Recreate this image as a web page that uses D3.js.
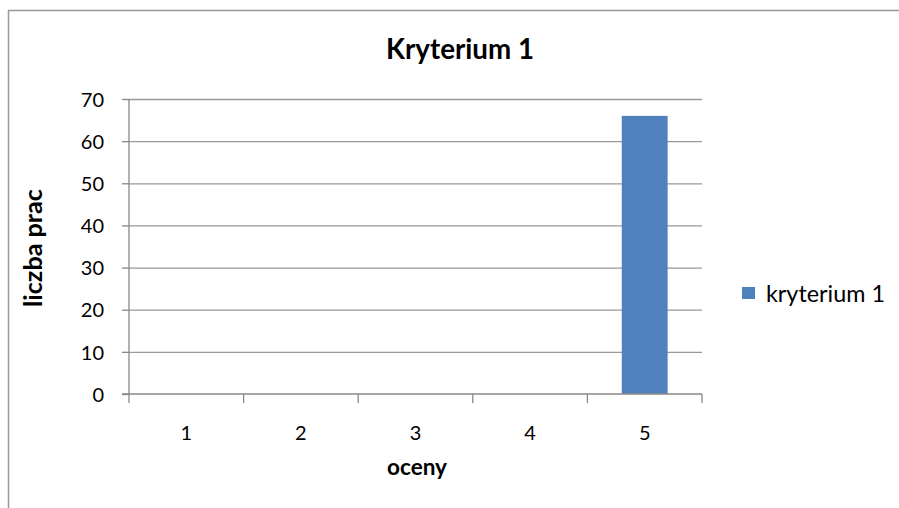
<!DOCTYPE html>
<html><head><meta charset="utf-8">
<script src="https://cdn.jsdelivr.net/npm/d3@7"></script>
<style>body{margin:0;background:#fff}svg{display:block}text{font-family:Lato,"Open Sans",sans-serif;fill:#000}</style>
</head><body>
<script>
const categories = ["1","2","3","4","5"];
const values = [0,0,0,0,66];
const yTicks = [0,10,20,30,40,50,60,70];
const seriesName = "kryterium 1";
const title = "Kryterium 1";
const xTitle = "oceny";
const yTitle = "liczba prac";

const W=899,H=508;
const svg=d3.select("body").append("svg").attr("width",W).attr("height",H);
svg.append("rect").attr("x",8.5).attr("y",10.5).attr("width",W).attr("height",H).attr("fill","none").attr("stroke","#999").attr("stroke-width",1.5);

function fit(sel,target){
  const n=sel.node(); const fs=+sel.attr("font-size");
  const w=n.getComputedTextLength(); if(w>0) sel.attr("font-size",fs*target/w);
  return sel;
}

const m={l:129,r:702,t:99,b:394};
const xb=d3.scaleBand().domain(categories).range([m.l,m.r]);
const y=d3.scaleLinear().domain([0,70]).range([m.b,m.t]);

// gridlines
svg.append("g").selectAll("line").data(yTicks.filter(d=>d>0)).join("line")
 .attr("x1",m.l).attr("x2",m.r).attr("y1",d=>y(d)+0.5).attr("y2",d=>y(d)+0.5)
 .attr("stroke","#999").attr("stroke-width",1.3);

// bars
svg.append("g").selectAll("rect").data(values).join("rect")
 .attr("x",(d,i)=>xb(categories[i])+xb.bandwidth()*0.3)
 .attr("width",xb.bandwidth()*0.4)
 .attr("y",d=>y(d)).attr("height",d=>y(0)-y(d))
 .attr("fill","#4f81bd");

// y axis
const ya=svg.append("g").attr("transform",`translate(${m.l},0)`)
 .call(d3.axisLeft(y).tickValues(yTicks).tickSize(7).tickPadding(18));
ya.selectAll("path,line").attr("stroke","#888").attr("stroke-width",1.3);
ya.select(".domain").attr("d",`M0,${m.t}V${m.b}`);
ya.selectAll("text").attr("font-size",20).attr("font-family","Lato,sans-serif").attr("fill","#000").attr("dy","0.36em");

// x axis
const xa=svg.append("g").attr("transform",`translate(0,${m.b})`);
xa.append("line").attr("x1",m.l-7).attr("x2",m.r).attr("y1",0).attr("y2",0).attr("stroke","#888").attr("stroke-width",1.3);
const edges=categories.map(c=>xb(c)).concat([m.r]);
xa.selectAll("line.t").data(edges).join("line").attr("class","t")
 .attr("x1",d=>d).attr("x2",d=>d).attr("y1",0).attr("y2",9).attr("stroke","#888").attr("stroke-width",1.3);
xa.selectAll("text").data(categories).join("text")
 .attr("x",d=>xb(d)+xb.bandwidth()/2).attr("y",46).attr("text-anchor","middle").attr("font-size",20).text(d=>d);

// titles
fit(svg.append("text").attr("x",460).attr("y",59).attr("text-anchor","middle").attr("font-size",24).attr("font-weight","bold").text(title),148);
fit(svg.append("text").attr("x",417).attr("y",475).attr("text-anchor","middle").attr("font-size",20).attr("font-weight","bold").text(xTitle),60);
fit(svg.append("text").attr("transform","translate(42,248) rotate(-90)").attr("text-anchor","middle").attr("font-size",20).attr("font-weight","bold").text(yTitle),118);

// legend
svg.append("rect").attr("x",742).attr("y",287).attr("width",13).attr("height",12).attr("fill","#4f81bd");
fit(svg.append("text").attr("x",766).attr("y",302).attr("font-size",20).text(seriesName),119);
</script>
</body></html>
